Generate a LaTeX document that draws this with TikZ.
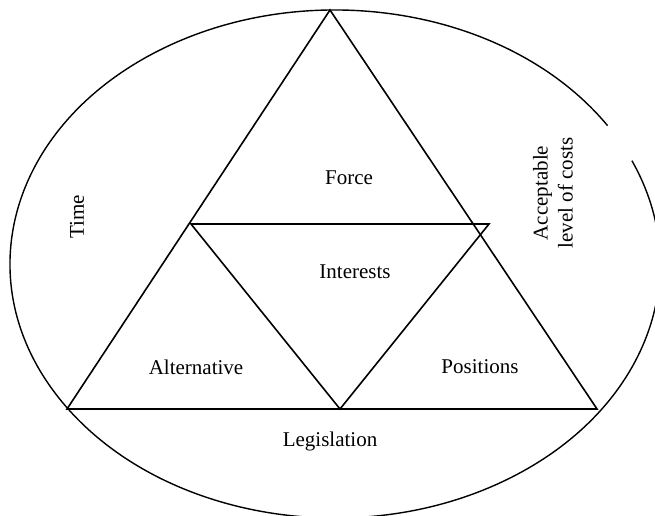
\documentclass[tikz,border=0pt]{standalone}
\usepackage{fontspec}
\setmainfont{Liberation Serif}
\usepackage{tikz}

\begin{document}
\begin{tikzpicture}[x=1pt, y=1pt, every node/.style={font=\fontsize{21}{25}\selectfont}]

% Define styles
\tikzstyle{side} = [draw=black, line width=1.6pt, line join=miter]
\tikzstyle{rim} = [draw=black, line width=1.4pt]
\tikzstyle{label} = [inner sep=0pt, align=center]

\useasboundingbox (0,0) rectangle (655,515);
\clip (0,0) rectangle (655,515);

% Vertices of the big triangle
\coordinate (top) at (330,505);
\coordinate (botL) at (67,106);
\coordinate (botM) at (340,106);
\coordinate (botR) at (597,106);
\coordinate (midL) at (191,291);
\coordinate (midR) at (474,291);
\coordinate (tipR) at (489,291);

% Outer ellipse (open on the upper right)
\coordinate (ctr) at (335,251);
\draw[rim] ([shift={(33:325 and 254)}]ctr) arc[start angle=33, end angle=384, x radius=325, y radius=254];

% Big triangle
\draw[side] (top) -- (botL) -- (botR) -- cycle;

% Inner triangle
\draw[side] (midL) -- (tipR) -- (botM) -- cycle;

% Labels
\node[label] (force) at (349,337) {Force};
\node[label] (interests) at (355,243) {Interests};
\node[label] (alternative) at (196,148) {Alternative};
\node[label] (positions) at (480,148) {Positions};
\node[label] (legislation) at (330,74) {Legislation};
\node[label, rotate=90] (time) at (77,298) {Time};
\node[label, rotate=90] (costs) at (553,322) {Acceptable\\level of costs};

\end{tikzpicture}
\end{document}
